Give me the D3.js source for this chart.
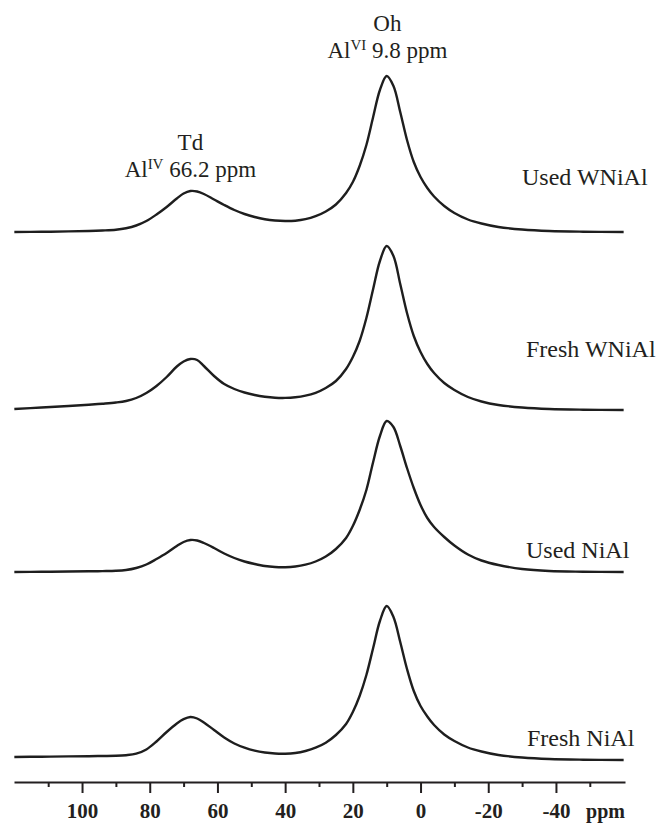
<!DOCTYPE html>
<html lang="en">
<head>
<meta charset="utf-8">
<title>27Al MAS NMR spectra</title>
<script src="https://d3js.org/d3.v7.min.js"></script>
<style>
  body { margin: 0; background: #fff; }
  svg text { font-family: "Liberation Serif", "Times New Roman", serif; fill: #231f20; }
  .trace { fill: none; stroke: #1e1e1e; stroke-width: 2.4; stroke-linejoin: round; }
  .axis path, .axis line { stroke: #231f20; stroke-width: 2; }
  .axis text { font-size: 21px; font-weight: bold; }
  .note { font-size: 23px; }
  .sample { font-size: 24px; }
</style>
</head>
<body>
<svg id="chart" width="656" height="823"></svg>
<script>
// chemical shift grid (ppm), shared by all four spectra
var ppm = [120, 112, 104, 98, 94, 90, 87, 84, 81, 78,
           75, 72, 70, 68, 66, 64, 61, 58, 55, 52,
           49, 46, 43, 40, 37, 34, 31, 28, 25, 22,
           20, 18, 16, 14, 12, 10, 8, 6, 4, 2,
           0, -2, -4, -7, -10, -14, -18, -23, -30, -38,
           -48, -60];

// intensities (a.u.), bottom spectrum first
var freshNiAl = [3, 3.3, 3.6, 3.8, 4, 4.2, 4.8, 6.3, 10.5, 18.5,
                 28, 36.5, 40.8, 43, 41.5, 37.5, 30, 22.5, 16.5, 12.3,
                 9.3, 7.5, 6.5, 6.3, 7, 9, 12.3, 17.3, 25, 36,
                 48, 64, 85, 112, 139, 154, 143, 118, 91, 69,
                 54, 43.5, 35, 25.5, 19, 12.5, 8.5, 5, 2.5, 1,
                 0.3, 0];
var usedNiAl = [0, 0.2, 0.5, 0.7, 0.9, 1.2, 2, 4, 7.5, 13,
                19, 26, 30, 32, 31.5, 29, 24, 18.5, 14, 10.5,
                8, 6, 5, 4.8, 5.5, 7.3, 10.5, 15.5, 23, 34,
                46, 62, 82, 110, 136, 151, 145, 126, 104, 84,
                67, 54, 45, 35, 26.5, 17.5, 11.5, 7, 3, 1,
                0.3, 0];
var freshWNiAl = [1, 2.5, 4, 5.3, 6.3, 7.5, 9, 12, 17, 24,
                  33, 43.5, 48.5, 51, 50, 44, 34, 26, 21, 17.5,
                  15, 13.3, 12.3, 12.1, 12.7, 14.3, 17.2, 22, 29, 41,
                  53, 69, 92, 121, 149, 164, 154, 126, 97, 74,
                  58, 46, 37, 27, 20, 13, 8.5, 5, 2.5, 1,
                  0.3, 0];
var usedWNiAl = [0, 0.2, 0.6, 1, 1.5, 2.3, 3.8, 6.5, 11, 17.5,
                 25, 33.5, 38.5, 41, 40.5, 38, 32.5, 27, 22, 18,
                 15, 12.8, 11.5, 11, 11.3, 12.8, 15.8, 20.5, 27.5, 39,
                 50, 66, 87, 115, 142, 156, 146, 120, 92, 70,
                 55, 44, 35.5, 26, 19, 12.5, 8.5, 5, 2.5, 1,
                 0.3, 0];

var sampleNames = ["Fresh NiAl", "Used NiAl", "Fresh WNiAl", "Used WNiAl"];
var stackOffsets = [0, 188, 350, 528];
var majorTicks = [100, 80, 60, 40, 20, 0, -20, -40];
var minorTicks = [110, 90, 70, 50, 30, 10, -10, -30, -50];

var spectra = [freshNiAl, usedNiAl, freshWNiAl, usedWNiAl];

var svg = d3.select("#chart");
var axisY = 782;

var x = d3.scaleLinear().domain([120.1, -60.4]).range([14, 625]);
var y = d3.scaleLinear().domain([0, 700]).range([760, 60]);

var line = d3.line()
  .x(function(d) { return x(d[0]); })
  .y(function(d) { return y(d[1]); })
  .curve(d3.curveCatmullRom.alpha(0.5));

svg.selectAll("path.trace")
  .data(spectra)
  .enter().append("path")
  .attr("class", "trace")
  .attr("d", function(s, i) {
    return line(ppm.map(function(p, j) { return [p, s[j] + stackOffsets[i]]; }));
  });

// sample labels
var labelX = [527, 526, 526, 522];
var labelY = [746, 558, 357, 185];
svg.selectAll("text.sample")
  .data(sampleNames)
  .enter().append("text")
  .attr("class", "sample")
  .attr("x", function(d, i) { return labelX[i]; })
  .attr("y", function(d, i) { return labelY[i]; })
  .text(function(d) { return d; });

// minor ticks first, then the labelled axis on top
svg.append("g")
  .attr("class", "axis")
  .attr("transform", "translate(0," + axisY + ")")
  .call(d3.axisBottom(x).tickValues(minorTicks).tickSize(5).tickFormat(""))
  .select(".domain").remove();

var ax = svg.append("g")
  .attr("class", "axis")
  .attr("transform", "translate(0," + axisY + ")")
  .call(d3.axisBottom(x).tickValues(majorTicks).tickSize(11).tickSizeOuter(0)
    .tickFormat(function(d) { return String(d); }));   // plain hyphen, as in the figure
ax.selectAll("text").attr("y", 36).attr("dy", 0);

ax.append("text")
  .attr("x", 625).attr("y", 36)
  .attr("text-anchor", "end")
  .style("font-size", "20px")
  .style("fill", "#231f20")
  .text("ppm");

// peak annotations
function note(cx, top, name, roman, shift) {
  svg.append("text").attr("class", "note")
    .attr("x", cx).attr("y", top).attr("text-anchor", "middle").text(name);
  var t = svg.append("text").attr("class", "note")
    .attr("x", cx).attr("y", top + 27).attr("text-anchor", "middle");
  t.append("tspan").text("Al");
  t.append("tspan").attr("dy", -8).style("font-size", "15px").text(roman);
  t.append("tspan").attr("dy", 8).text(" " + shift + " ppm");
}
note(x(9.8), 31, "Oh", "VI", "9.8");
note(x(68), 150, "Td", "IV", "66.2");
</script>
</body>
</html>
